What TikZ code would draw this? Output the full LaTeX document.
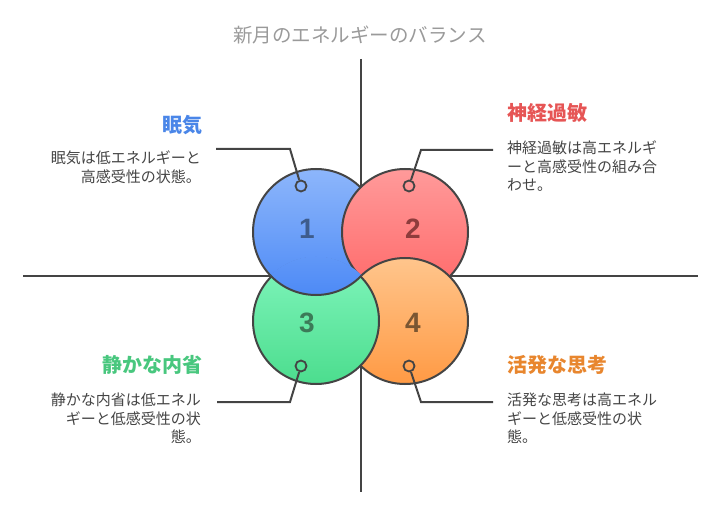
\documentclass[tikz,border=0pt]{standalone}
\usepackage{fontspec}
\setmainfont{Noto Sans CJK JP}
\newfontfamily\numfont{Liberation Sans}
\usetikzlibrary{calc}
\definecolor{lineC}{HTML}{444444}
\definecolor{titleC}{HTML}{9A9A9A}
\definecolor{bodyC}{HTML}{444444}
\definecolor{blueT}{HTML}{8DB6FB}
\definecolor{blueB}{HTML}{4D8AF6}
\definecolor{redT}{HTML}{FF9A9A}
\definecolor{redB}{HTML}{FF6868}
\definecolor{greenT}{HTML}{80F5BC}
\definecolor{greenB}{HTML}{4CDD8E}
\definecolor{orangeT}{HTML}{FFC58C}
\definecolor{orangeB}{HTML}{FF9A44}
\definecolor{blueN}{HTML}{3E5C8C}
\definecolor{redN}{HTML}{8E3C3C}
\definecolor{greenN}{HTML}{3C7A58}
\definecolor{orangeN}{HTML}{7A5632}
\definecolor{blueL}{HTML}{4A86E8}
\definecolor{redL}{HTML}{E65555}
\definecolor{greenL}{HTML}{48C77E}
\definecolor{orangeL}{HTML}{E8862E}
\tikzset{
  big/.style={circle, draw=lineC, line width=2pt, minimum size=126pt, inner sep=0pt},
  num/.style={font=\numfont\fontsize{28}{30}\selectfont\bfseries},
  dot/.style={circle, draw=lineC, line width=1.8pt, minimum size=11pt, inner sep=0pt},
  conn/.style={draw=lineC, line width=2pt},
  axis/.style={draw=lineC, line width=2pt},
  ttl/.style={font=\fontsize{20}{24}\selectfont\bfseries, inner sep=0pt},
  body/.style={font=\fontsize{15}{18.5}\selectfont, text=bodyC, inner sep=0pt},
}
\begin{document}
\begin{tikzpicture}[x=1pt,y=-1pt]
\useasboundingbox (0,0) rectangle (721,516);
% title
\node[font=\fontsize{19.5}{23}\selectfont, text=titleC, inner sep=0pt] (title) at (360,35) {新月のエネルギーのバランス};
% axes
\coordinate (vt) at (361,59);
\coordinate (vb) at (361,492);
\coordinate (hl) at (23,276);
\coordinate (hr) at (698,276);
\draw[axis] (vt) -- (vb);
\draw[axis] (hl) -- (hr);
% circles (cyclic overlap: 2 over 1, 4 over 2, 3 over 4, 1 over 3)
\node[big, top color=blueT, bottom color=blueB] (c1) at (316,232) {};
\node[big, top color=redT, bottom color=redB] (c2) at (405,232) {};
\node[big, top color=orangeT, bottom color=orangeB] (c4) at (405,321) {};
\node[big, top color=greenT, bottom color=greenB] (c3) at (316,321) {};
\begin{scope}
  \clip (316,321) circle (64.5);
  \node[big, top color=blueT, bottom color=blueB] at (316,232) {};
\end{scope}
% numbers
\node[num, text=blueN] (n1) at (307,229) {1};
\node[num, text=redN] (n2) at (413,229) {2};
\node[num, text=greenN] (n3) at (307,323) {3};
\node[num, text=orangeN] (n4) at (413,323) {4};
% connector dots
\node[dot] (d1) at (301,186) {};
\node[dot] (d2) at (409,186) {};
\node[dot] (d3) at (301,366) {};
\node[dot] (d4) at (409,366) {};
% connectors
\coordinate (k1) at (216,149);
\coordinate (k2) at (493,150);
\coordinate (k3) at (217,402);
\coordinate (k4) at (493,402);
\draw[conn] (k1) -- (290,149) -- (d1);
\draw[conn] (k2) -- (421,150) -- (d2);
\draw[conn] (k3) -- (290,402) -- (d3);
\draw[conn] (k4) -- (421,402) -- (d4);
% labels
\node[ttl, text=blueL, anchor=east] (t1) at (203,125) {眠気};
\node[ttl, text=redL, anchor=west] (t2) at (507,113) {神経過敏};
\node[ttl, text=greenL, anchor=east] (t3) at (203,365) {静かな内省};
\node[ttl, text=orangeL, anchor=west] (t4) at (507,365) {活発な思考};
\node[body, align=right, anchor=north east] (b1) at (201,151) {眠気は低エネルギーと\\高感受性の状態。};
\node[body, align=left, anchor=north west] (b2) at (507,141) {神経過敏は高エネルギ\\ーと高感受性の組み合\\わせ。};
\node[body, align=right, anchor=north east] (b3) at (201,393) {静かな内省は低エネル\\ギーと低感受性の状\\態。};
\node[body, align=left, anchor=north west] (b4) at (507,393) {活発な思考は高エネル\\ギーと低感受性の状\\態。};
\end{tikzpicture}
\end{document}
